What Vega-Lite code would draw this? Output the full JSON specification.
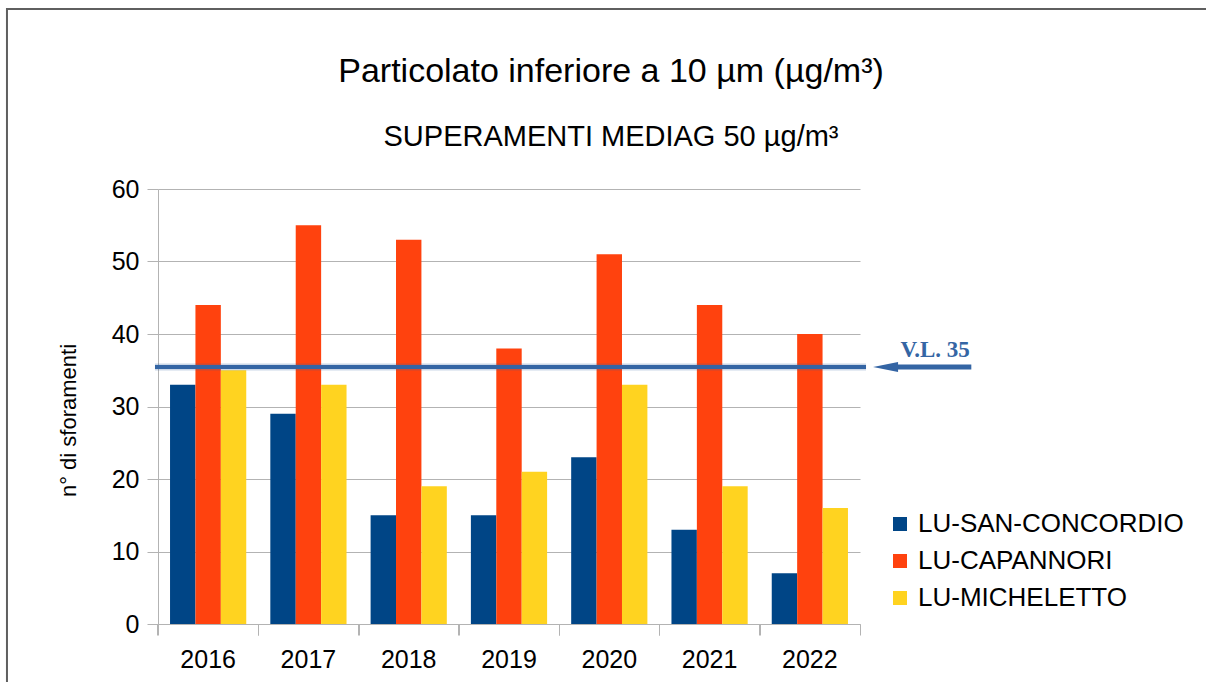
{
  "$schema": "https://vega.github.io/schema/vega-lite/v6.json",
  "width": 702,
  "height": 435,
  "autosize": {"type": "none"},
  "padding": {"left": 158, "top": 189, "right": 346, "bottom": 58},
  "background": "white",
  "config": {"view": {"stroke": null}, "font": "Liberation Sans"},
  "title": {
    "text": "Particolato inferiore a 10 µm (µg/m³)",
    "subtitle": "SUPERAMENTI MEDIAG 50 µg/m³",
    "font": "Liberation Sans",
    "subtitleFont": "Liberation Sans",
    "fontSize": 34,
    "fontWeight": "normal",
    "subtitleFontSize": 29,
    "color": "black",
    "subtitleColor": "black",
    "anchor": "middle",
    "frame": "group",
    "dx": 102,
    "dy": 166,
    "offset": 22,
    "subtitlePadding": 34
  },
  "data": {
    "values": [
      {"year": "2016", "station": "LU-SAN-CONCORDIO", "n": 33},
      {"year": "2016", "station": "LU-CAPANNORI", "n": 44},
      {"year": "2016", "station": "LU-MICHELETTO", "n": 35},
      {"year": "2017", "station": "LU-SAN-CONCORDIO", "n": 29},
      {"year": "2017", "station": "LU-CAPANNORI", "n": 55},
      {"year": "2017", "station": "LU-MICHELETTO", "n": 33},
      {"year": "2018", "station": "LU-SAN-CONCORDIO", "n": 15},
      {"year": "2018", "station": "LU-CAPANNORI", "n": 53},
      {"year": "2018", "station": "LU-MICHELETTO", "n": 19},
      {"year": "2019", "station": "LU-SAN-CONCORDIO", "n": 15},
      {"year": "2019", "station": "LU-CAPANNORI", "n": 38},
      {"year": "2019", "station": "LU-MICHELETTO", "n": 21},
      {"year": "2020", "station": "LU-SAN-CONCORDIO", "n": 23},
      {"year": "2020", "station": "LU-CAPANNORI", "n": 51},
      {"year": "2020", "station": "LU-MICHELETTO", "n": 33},
      {"year": "2021", "station": "LU-SAN-CONCORDIO", "n": 13},
      {"year": "2021", "station": "LU-CAPANNORI", "n": 44},
      {"year": "2021", "station": "LU-MICHELETTO", "n": 19},
      {"year": "2022", "station": "LU-SAN-CONCORDIO", "n": 7},
      {"year": "2022", "station": "LU-CAPANNORI", "n": 40},
      {"year": "2022", "station": "LU-MICHELETTO", "n": 16}
    ]
  },
  "layer": [
    {
      "mark": {"type": "bar"},
      "encoding": {
        "x": {
          "field": "year",
          "type": "nominal",
          "scale": {"paddingInner": 0.24, "paddingOuter": 0.12},
          "axis": {
            "title": null,
            "orient": "bottom",
            "labelAngle": 0,
            "labelFontSize": 25,
            "labelFont": "Liberation Sans",
            "labelColor": "black",
            "labelPadding": 12,
            "ticks": true,
            "bandPosition": -0.158,
            "tickSize": 11,
            "tickColor": "#b3b3b3",
            "domainColor": "#b3b3b3",
            "grid": false
          }
        },
        "xOffset": {
          "field": "station",
          "type": "nominal",
          "scale": {"domain": ["LU-SAN-CONCORDIO", "LU-CAPANNORI", "LU-MICHELETTO"], "paddingInner": 0, "paddingOuter": 0}
        },
        "y": {
          "field": "n",
          "type": "quantitative",
          "scale": {"domain": [0, 60], "nice": false},
          "axis": {
            "values": [0, 5, 10, 15, 20, 25, 30, 35, 40, 45, 50, 55, 60],
            "labelExpr": "datum.value % 10 === 0 ? datum.label : ''",
            "gridColor": {"condition": {"test": "datum.value % 10 === 0", "value": "#b3b3b3"}, "value": "#e0e0e0"},
            "tickOpacity": {"condition": {"test": "datum.value % 10 === 0", "value": 1}, "value": 0},
            "tickColor": "#b3b3b3",
            "tickSize": 11,
            "domainColor": "#b3b3b3",
            "labelFontSize": 25,
            "labelFont": "Liberation Sans",
            "labelColor": "black",
            "labelPadding": 8,
            "title": "n° di sforamenti",
            "titleFont": "Liberation Sans",
            "titleFontSize": 22,
            "titleFontWeight": "normal",
            "titleColor": "black",
            "titleAngle": -90,
            "titleX": -90,
            "titleY": 231,
            "titleAlign": "center",
            "titleBaseline": "middle"
          }
        },
        "color": {
          "field": "station",
          "type": "nominal",
          "scale": {
            "domain": ["LU-SAN-CONCORDIO", "LU-CAPANNORI", "LU-MICHELETTO"],
            "range": ["#004586", "#ff420e", "#ffd320"]
          },
          "legend": {
            "orient": "none",
            "legendX": 729,
            "legendY": 322,
            "title": null,
            "symbolType": "square",
            "symbolSize": 196,
            "symbolStrokeWidth": 0,
            "labelFontSize": 26,
            "labelFont": "Liberation Sans",
            "labelColor": "black",
            "labelOffset": 5,
            "labelLimit": 500,
            "rowPadding": 11,
            "padding": 0
          }
        }
      }
    },
    {
      "data": {"values": [{}]},
      "layer": [
        {
          "mark": {"type": "rect", "fillOpacity": 0, "stroke": "#5f5f5f", "strokeWidth": 2},
          "encoding": {
            "x": {
              "datum": -1.506,
              "type": "quantitative",
              "scale": {"domain": [0, 7], "nice": false, "zero": false},
              "axis": {"orient": "bottom", "values": [0, 1, 2, 3, 4, 5, 6, 7], "labels": false, "domain": false, "grid": false, "tickSize": 11, "tickColor": "#b3b3b3", "title": null}
            },
            "x2": {"datum": 11},
            "y": {"datum": 84.83, "type": "quantitative"},
            "y2": {"datum": -10}
          }
        },
        {
          "mark": {"type": "rule", "color": "#3465a4", "strokeWidth": 7, "opacity": 0.25},
          "encoding": {
            "x": {"datum": -0.03, "type": "quantitative"},
            "x2": {"datum": 7.06},
            "y": {"datum": 35.45, "type": "quantitative"}
          }
        },
        {
          "mark": {"type": "rule", "color": "#3465a4", "strokeWidth": 4},
          "encoding": {
            "x": {"datum": -0.03, "type": "quantitative"},
            "x2": {"datum": 7.06},
            "y": {"datum": 35.45, "type": "quantitative"}
          }
        },
        {
          "mark": {"type": "rule", "color": "#3465a4", "strokeWidth": 5},
          "encoding": {
            "x": {"datum": 7.35, "type": "quantitative"},
            "x2": {"datum": 8.11},
            "y": {"datum": 35.45, "type": "quantitative"}
          }
        },
        {
          "mark": {"type": "point", "shape": "M-1,0L1,-0.4L1,0.4Z", "size": 625, "filled": true, "color": "#3465a4", "opacity": 1, "strokeWidth": 0},
          "encoding": {
            "x": {"datum": 7.255, "type": "quantitative"},
            "y": {"datum": 35.45, "type": "quantitative"}
          }
        },
        {
          "mark": {"type": "text", "text": "V.L. 35", "font": "Liberation Serif", "fontWeight": "bold", "fontSize": 23, "color": "#3465a4", "align": "center", "baseline": "alphabetic"},
          "encoding": {
            "x": {"datum": 7.75, "type": "quantitative"},
            "y": {"datum": 36.83, "type": "quantitative"}
          }
        }
      ]
    }
  ],
  "resolve": {"scale": {"x": "independent"}, "axis": {"x": "independent"}}
}
